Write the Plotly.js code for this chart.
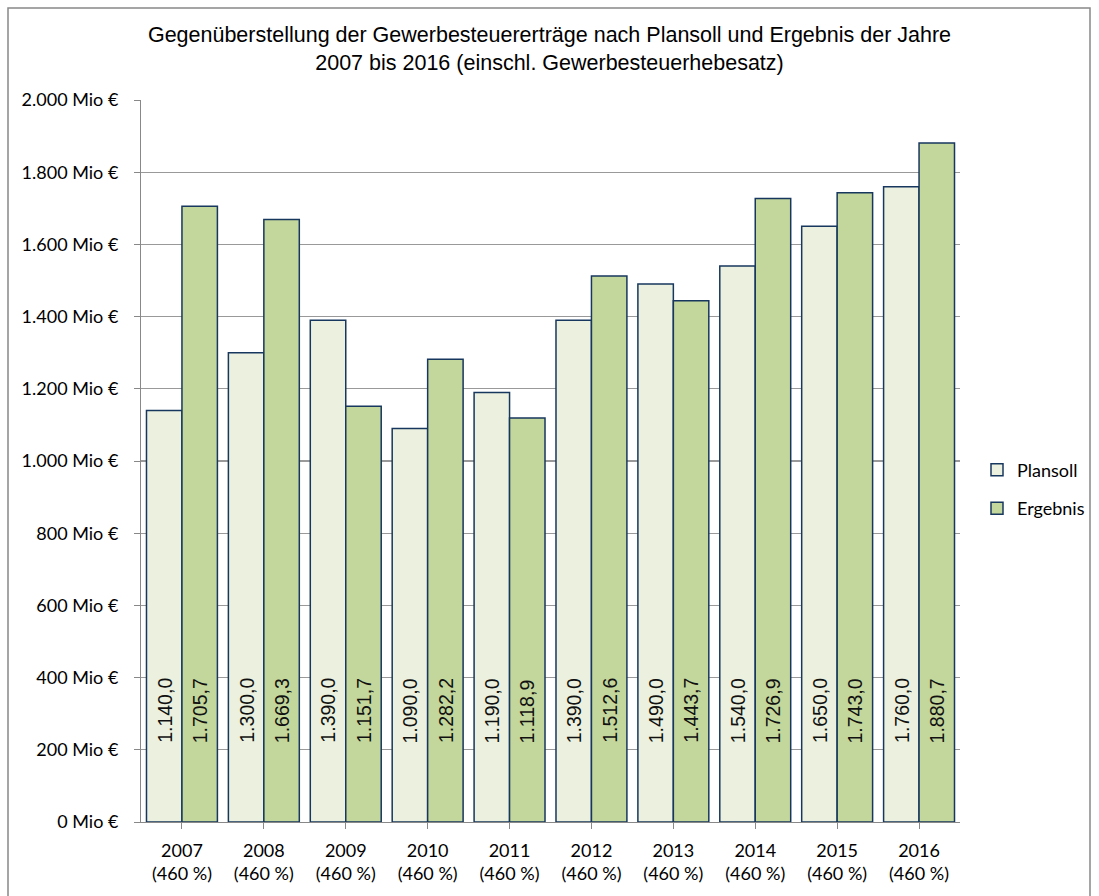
<!DOCTYPE html>
<html>
<head>
<meta charset="utf-8">
<script src="https://cdn.plot.ly/plotly-3.0.1.min.js"></script>
<style>
html,body{margin:0;padding:0;background:#fff;}
#chart{width:1099px;height:896px;}
</style>
</head>
<body>
<div id="chart"></div>
<script>
const years = ['2007','2008','2009','2010','2011','2012','2013','2014','2015','2016'];
const hebesatz = ['460 %','460 %','460 %','460 %','460 %','460 %','460 %','460 %','460 %','460 %'];
const plansoll = [1140.0,1300.0,1390.0,1090.0,1190.0,1390.0,1490.0,1540.0,1650.0,1760.0];
const ergebnis = [1705.7,1669.3,1151.7,1282.2,1118.9,1512.6,1443.7,1726.9,1743.0,1880.7];
const seriesNames = ['Plansoll','Ergebnis'];
const titleText = 'Gegenüberstellung der Gewerbesteuererträge nach Plansoll und Ergebnis der Jahre<br>2007 bis 2016 (einschl. Gewerbesteuerhebesatz)';

const tickFont = 'Lato, "Open Sans", sans-serif';
const labelFont = '"Liberation Sans", Arial, sans-serif';

function de(v){
  const s = v.toFixed(1).split('.');
  return s[0].replace(/\B(?=(\d{3})+(?!\d))/g,'.') + ',' + s[1];
}

const idx = years.map((_,i)=>i);
const ticktext = years.map((y,i)=> y + '<br>(' + hebesatz[i] + ')');
const bargap = 0.134;
const half = (1-bargap)/4;

const L = 141, R = 0, PW = 1099 - L - R;   // paper width
const plotW = 819;

const lineCol = '#17375E';
const traces = [
  {type:'bar', name:seriesNames[0], x:idx, y:plansoll, legendgroup:'a',
   marker:{color:'#EBF1DE', line:{color:lineCol, width:1.5}}, hoverinfo:'y'},
  {type:'bar', name:seriesNames[1], x:idx, y:ergebnis, legendgroup:'b',
   marker:{color:'#C3D69B', line:{color:lineCol, width:1.5}}, hoverinfo:'y'}
];

const annotations = [];
idx.forEach(i=>{
  [[plansoll,-half],[ergebnis,half]].forEach(([arr,off])=>{
    annotations.push({x:i+off, y:213, xref:'x', yref:'y', text:de(arr[i]),
      showarrow:false, textangle:-90, xanchor:'center', yanchor:'bottom',
      font:{family:labelFont, size:19.5, color:'#111'}});
  });
});

const layout = {
  width:1099, height:896,
  margin:{l:L, r:R, t:100, b:74},
  paper_bgcolor:'#fff', plot_bgcolor:'#fff',
  separators:',.',
  barmode:'group', bargap:bargap, bargroupgap:0,
  title:{text:titleText, x:0.5, xref:'container', y:1-42/896, yref:'container', yanchor:'top',
         font:{family:labelFont, size:21.5, color:'#000'}},
  xaxis:{domain:[0, plotW/PW], range:[-0.5,9.5], tickvals:idx, ticktext:ticktext, tickson:'boundaries',
         ticks:'outside', ticklen:6, tickcolor:'#888', tickwidth:1,
         showline:true, linecolor:'#888', linewidth:1, showgrid:false, zeroline:false,
         ticklabelstandoff:6, automargin:false,
         tickfont:{family:tickFont, size:18, color:'#000'}, fixedrange:true},
  yaxis:{range:[0,2000], dtick:200, tick0:0, tickformat:',d', ticksuffix:' Mio €',
         ticks:'outside', ticklen:6, tickcolor:'#888', tickwidth:1,
         showline:true, linecolor:'#888', linewidth:1,
         showgrid:true, gridcolor:'#999', gridwidth:1.2, zeroline:false,
         ticklabelstandoff:12, automargin:false,
         tickfont:{family:tickFont, size:18, color:'#000'}, fixedrange:true},
  legend:{x:(977-L)/PW, xanchor:'left', y:0.461, yanchor:'middle', traceorder:'grouped', tracegroupgap:12,
          font:{family:tickFont, size:18, color:'#000'}, bgcolor:'rgba(0,0,0,0)'},
  annotations:annotations,
  shapes:[{type:'rect', xref:'paper', yref:'paper',
           x0:(8-L)/PW, x1:(1090-L)/PW, y0:-0.3, y1:(822-8)/722,
           line:{color:'#888', width:1.5}, fillcolor:'rgba(0,0,0,0)', layer:'below'}]
};

Plotly.newPlot('chart', traces, layout, {displayModeBar:false, staticPlot:true});
</script>
</body>
</html>
